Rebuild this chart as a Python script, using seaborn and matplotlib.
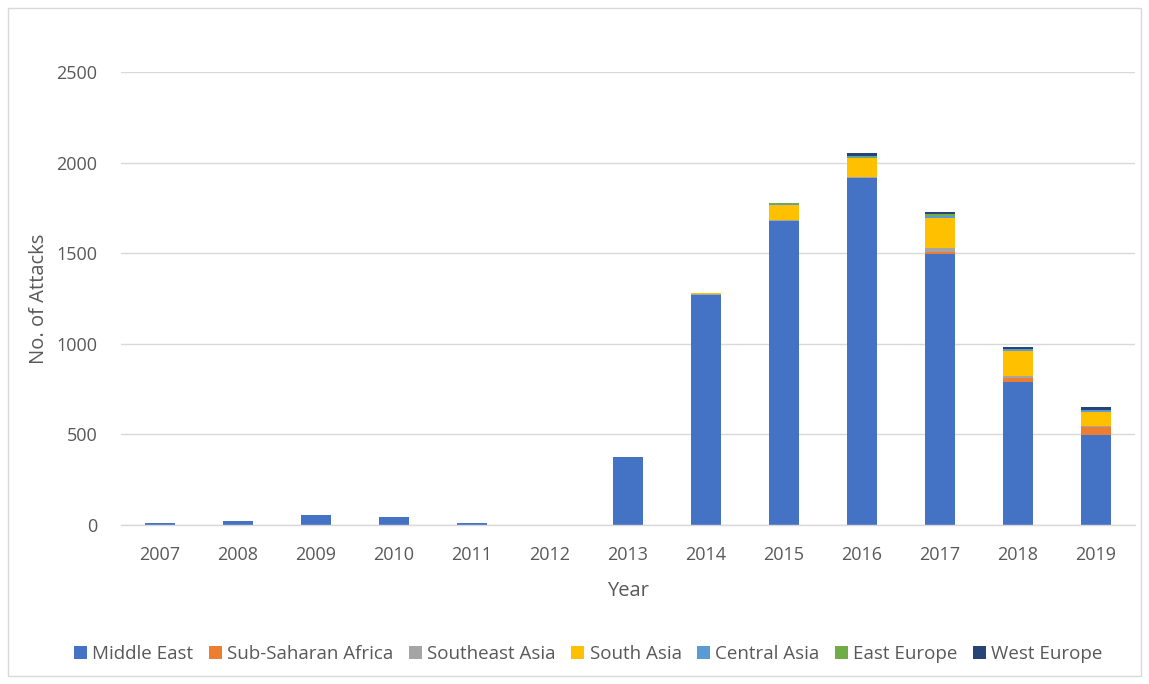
import numpy as np
import pandas as pd
import matplotlib
matplotlib.use("Agg")
import matplotlib.pyplot as plt
import seaborn as sns
from matplotlib.patches import Patch, Rectangle

years = ["2007", "2008", "2009", "2010", "2011", "2012", "2013",
         "2014", "2015", "2016", "2017", "2018", "2019"]
middle_east   = [13, 22, 53, 42, 13, 0, 377, 1272, 1680, 1913, 1496, 788, 497]
sub_saharan   = [0, 0, 0, 0, 0, 0, 0, 0, 0, 0, 12, 22, 42]
southeast_asia = [0, 0, 0, 0, 0, 0, 0, 3, 3, 5, 18, 13, 9]
south_asia    = [0, 0, 0, 0, 0, 0, 0, 8, 85, 110, 170, 138, 77]
central_asia  = [0, 0, 0, 0, 0, 0, 0, 0, 2, 3, 8, 9, 9]
east_europe   = [0, 0, 0, 0, 0, 0, 0, 0, 8, 8, 12, 2, 2]
west_europe   = [0, 0, 0, 0, 0, 0, 0, 0, 0, 13, 10, 10, 13]

series_names = ["Middle East", "Sub-Saharan Africa", "Southeast Asia", "South Asia",
                "Central Asia", "East Europe", "West Europe"]
series = [middle_east, sub_saharan, southeast_asia, south_asia,
          central_asia, east_europe, west_europe]
colors = ["#4472C4", "#ED7D31", "#A5A5A5", "#FFC000", "#5B9BD5", "#70AD47", "#264478"]

sns.set_theme(style="white")
plt.rcParams['font.family'] = ['Open Sans', 'DejaVu Sans']
text_color = "#595959"

fig = plt.figure(figsize=(11.49, 6.84), dpi=100)
ax = fig.add_axes([121/1149, 1 - 525/684, (1135 - 121)/1149, (525 - 72)/684])

cum = np.cumsum(np.array(series, dtype=float), axis=0)
for i in reversed(range(len(series))):
    df = pd.DataFrame({"Year": years, "Value": cum[i]})
    sns.barplot(data=df, x="Year", y="Value", color=colors[i], width=0.38,
                saturation=1, ax=ax, order=years, linewidth=0)

ax.set_ylim(0, 2500)
ax.set_xlim(-0.5, len(years) - 0.5)
ax.set_yticks([0, 500, 1000, 1500, 2000, 2500])
ax.yaxis.grid(True, color="#D9D9D9", linewidth=1)
ax.set_axisbelow(True)
for s in ["top", "right", "left"]:
    ax.spines[s].set_visible(False)
ax.spines["bottom"].set_color("#D9D9D9")
ax.spines["bottom"].set_linewidth(1)
ax.tick_params(axis="both", length=0, labelsize=13, colors=text_color)
ax.tick_params(axis="y", pad=17)
ax.tick_params(axis="x", pad=15)
ax.set_xlabel("Year", fontsize=14.5, color=text_color, labelpad=12)
ax.set_ylabel("No. of Attacks", fontsize=14.5, color=text_color, labelpad=5)

handles = [Patch(facecolor=c, edgecolor="none", label=n) for c, n in zip(colors, series_names)]
leg = fig.legend(handles=handles, loc="center", bbox_to_anchor=(0.512, 1 - 654/684), ncol=7,
                 frameon=False, fontsize=13.5, handlelength=0.7, handleheight=0.7,
                 handletextpad=0.3, columnspacing=0.8)
for t in leg.get_texts():
    t.set_color(text_color)

fig.patches.append(Rectangle((8/1149, 8/684), (1141 - 8)/1149, (676 - 8)/684,
                             transform=fig.transFigure, fill=False,
                             edgecolor="#D9D9D9", linewidth=1))

fig.savefig("out.png", dpi=100, facecolor="white")
